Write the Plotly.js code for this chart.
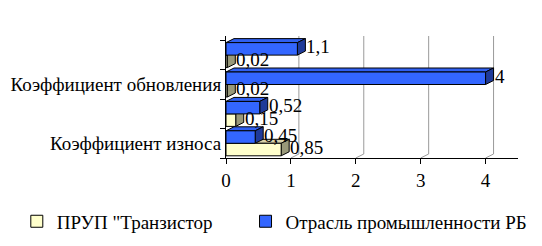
<!DOCTYPE html>
<html>
<head>
<meta charset="utf-8">
<script src="https://cdn.plot.ly/plotly-3.0.1.min.js"></script>
<style>html,body{margin:0;padding:0;background:#fff;}#chart{width:542px;height:246px;}</style>
</head>
<body>
<div id="chart"></div>
<script>
// ---- data ----
const categories = ['Коэффициент износа', 'Категория 2', 'Коэффициент обновления', 'Категория 4'];
const tickLabels = ['Коэффициент износа', '', 'Коэффициент обновления', ''];
const seriesNames = ['ПРУП "Транзистор', 'Отрасль промышленности РБ'];
const tranzistor = [0.85, 0.15, 0.02, 0.02];
const industryRB = [0.45, 0.52, 4, 1.1];
const xTicks = [0, 1, 2, 3, 4];

// ---- layout constants ----
const W = 542, H = 246;
const M = {l: 226, r: 24, t: 36, b: 88};
const xRange = [0, 4.5];
const yRange = [-0.5, 3.65];
const bargap = 0.15;
const depthPx = {x: 8, y: 4};
const plotW = W - M.l - M.r, plotH = H - M.t - M.b;
const dxU = depthPx.x * (xRange[1] - xRange[0]) / plotW;
const dyU = depthPx.y * (yRange[1] - yRange[0]) / plotH;
const font = 'Liberation Serif';
const fs = 19;

const colors = [
  {front: '#ffffcc', side: '#99997a', top: '#d9d3aa'},
  {front: '#3366ff', side: '#1f3a99', top: '#3060f0'}
];
const series = [tranzistor, industryRB];
const legendIds = ['legend', 'legend2'];

const traces = series.map((vals, s) => ({
  type: 'bar', orientation: 'h', name: seriesNames[s],
  y: categories, x: vals, legend: legendIds[s],
  marker: {color: colors[s].front, line: {color: '#000', width: 1}},
  hoverinfo: 'x+y'
}));

const shapes = [];
// 3D back-wall gridlines
xTicks.filter(t => t > 0).forEach(t => {
  shapes.push({type: 'path', xref: 'x', yref: 'y', layer: 'below',
    path: `M${t},${yRange[0]} L${t + dxU},${yRange[0] + dyU} L${t + dxU},${yRange[1]}`,
    line: {color: '#9a9a9a', width: 1}});
});
// 3D faces of bars
const half = (1 - bargap) / 2;
series.forEach((vals, s) => {
  vals.forEach((v, i) => {
    const yb = s === 0 ? i - half : i;
    const yt = s === 0 ? i : i + half;
    shapes.push({type: 'path', xref: 'x', yref: 'y', layer: 'below',
      path: `M0,${yt} L${v},${yt} L${v + dxU},${yt + dyU} L${dxU},${yt + dyU} Z`,
      fillcolor: colors[s].top, line: {color: '#000', width: 1}});
    shapes.push({type: 'path', xref: 'x', yref: 'y', layer: 'below',
      path: `M${v},${yb} L${v},${yt} L${v + dxU},${yt + dyU} L${v + dxU},${yb + dyU} Z`,
      fillcolor: colors[s].side, line: {color: '#000', width: 1}});
  });
});

const annotations = [];
series.forEach((vals, s) => {
  vals.forEach((v, i) => {
    const yc = s === 0 ? i - half / 2 : i + half / 2;
    annotations.push({x: v, y: yc, xref: 'x', yref: 'y',
      text: String(v).replace('.', ','), showarrow: false,
      xanchor: 'left', yanchor: 'middle', xshift: depthPx.x - 1, yshift: 2,
      font: {family: font, size: fs, color: '#000'}});
  });
});

const legendBase = {orientation: 'h', xref: 'container', yref: 'container', y: 0.1,
  xanchor: 'left', yanchor: 'middle', itemwidth: 30, font: {family: font, size: fs},
  bgcolor: 'rgba(0,0,0,0)'};

const layout = {
  width: W, height: H, margin: M,
  paper_bgcolor: '#fff', plot_bgcolor: '#fff',
  barmode: 'group', bargap: bargap, bargroupgap: 0,
  font: {family: font, size: fs, color: '#000'},
  xaxis: {range: xRange, tickvals: xTicks, ticktext: xTicks.map(String),
    showgrid: false, zeroline: false, showline: true, linecolor: '#000', linewidth: 1,
    ticks: 'outside', ticklen: 5, tickcolor: '#000', ticklabelstandoff: 0,
    tickfont: {family: font, size: fs}},
  yaxis: {type: 'category', range: yRange, tickmode: 'array', tickvals: categories, ticktext: tickLabels,
    tickson: 'boundaries', ticks: 'outside', ticklen: 5, tickcolor: '#000',
    showgrid: false, zeroline: false, showline: true, linecolor: '#000', linewidth: 1,
    tickfont: {family: font, size: fs}},
  showlegend: true,
  legend: Object.assign({}, legendBase, {x: 0.031}),
  legend2: Object.assign({}, legendBase, {x: 0.453}),
  shapes: shapes,
  annotations: annotations
};

Plotly.newPlot('chart', traces, layout, {displayModeBar: false, staticPlot: true});
</script>
</body>
</html>
